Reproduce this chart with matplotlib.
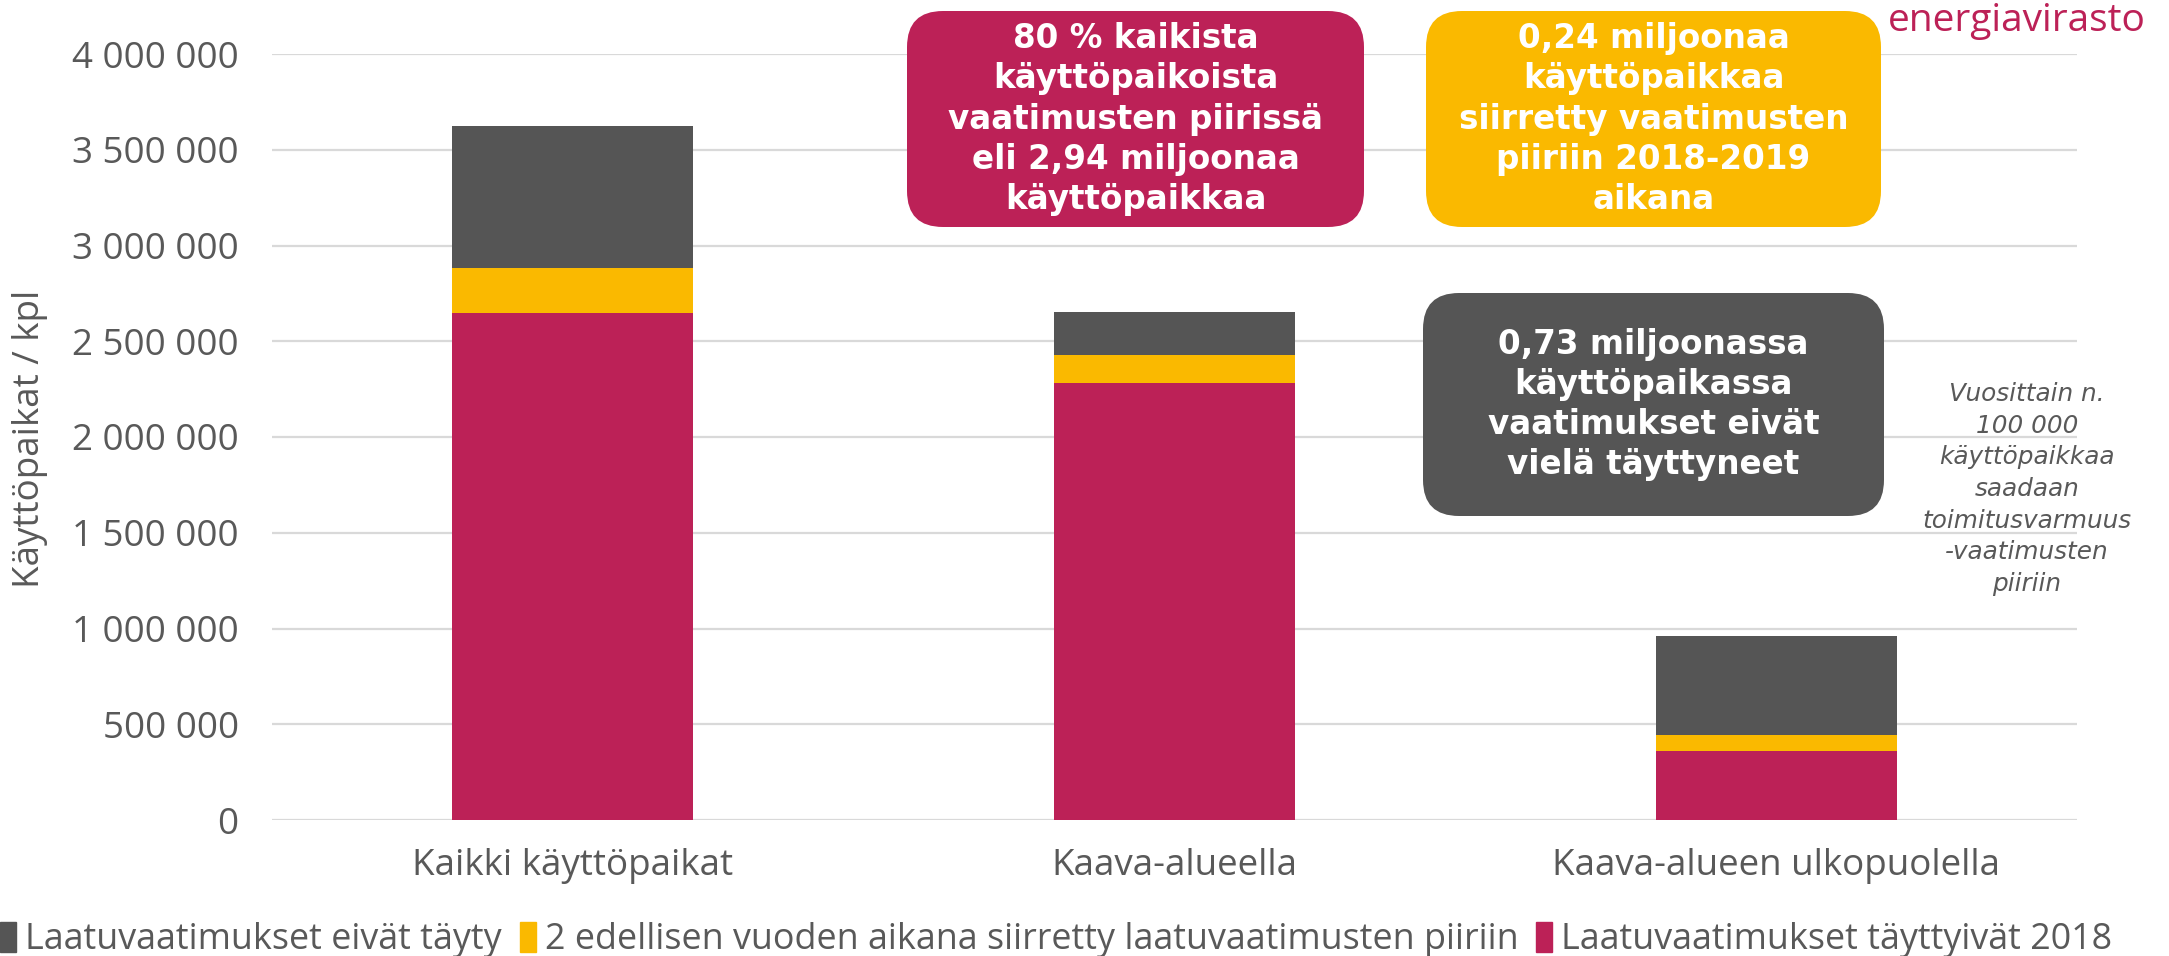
import matplotlib
matplotlib.use("Agg")
import matplotlib.pyplot as plt
from matplotlib.patches import FancyBboxPatch, Patch
from matplotlib.ticker import FuncFormatter
import numpy as np

# data
categories = ["Kaikki käyttöpaikat", "Kaava-alueella", "Kaava-alueen ulkopuolella"]
met_2018 = [2645000, 2282000, 360000]
moved = [239000, 147000, 82000]
not_met = [738000, 223000, 519000]
series_names = ["Laatuvaatimukset eivät täyty",
                "2 edellisen vuoden aikana siirretty laatuvaatimusten piiriin",
                "Laatuvaatimukset täyttyivät 2018"]

MAGENTA = "#BC2157"
YELLOW = "#FAB900"
GRAY = "#555555"
TEXT = "#595959"

plt.rcParams['font.family'] = ['Open Sans', 'DejaVu Sans']

fig = plt.figure(figsize=(21.69, 9.56), dpi=100)
ax = fig.add_axes([272 / 2169, 1 - 820 / 956, (2077 - 272) / 2169, (820 - 54) / 956])

x = np.arange(len(categories))
w = 0.4
b1 = np.array(met_2018)
b2 = b1 + np.array(moved)
ax.bar(x, met_2018, w, color=MAGENTA, zorder=2)
ax.bar(x, moved, w, bottom=b1, color=YELLOW, zorder=2)
ax.bar(x, not_met, w, bottom=b2, color=GRAY, zorder=2)

ax.set_xlim(-0.5, 2.5)
ax.set_ylim(0, 4000000)
ax.set_yticks(np.arange(0, 4000001, 500000))
ax.yaxis.set_major_formatter(FuncFormatter(lambda v, p: f"{int(v):,}".replace(",", " ")))
ax.set_xticks(x)
ax.set_xticklabels(categories)
ax.grid(axis='y', color="#D9D9D9", linewidth=1.6, zorder=0)
for s in ax.spines.values():
    s.set_visible(False)
ax.tick_params(axis='both', length=0, labelsize=26.5, colors=TEXT)
ax.tick_params(axis='y', pad=24)
ax.tick_params(axis='x', pad=20)

fig.text(30 / 2169, 1 - 317 * 1.3833 / 956, "Käyttöpaikat / kpl", rotation=90,
         ha='center', va='center', fontsize=26.5, color=TEXT)

# rounded note boxes (positions in inches from the bottom-left corner)
def note(x0, x1, ytop, ybot, color, txt):
    H = 9.56
    y0 = H - ybot / 100
    y1 = H - ytop / 100
    box = FancyBboxPatch((x0 / 100, y0), (x1 - x0) / 100, y1 - y0,
                         boxstyle="round,pad=0,rounding_size=0.36",
                         transform=fig.dpi_scale_trans, facecolor=color,
                         edgecolor='none', zorder=5)
    fig.patches.append(box)
    fig.text((x0 + x1) / 2 / 2169, 1 - (ytop + ybot) / 2 / 956, txt,
             ha='center', va='center', color='white', fontsize=23.5,
             fontweight='bold', family='DejaVu Sans', linespacing=1.27,
             zorder=6)

note(907, 1364, 11, 227, MAGENTA,
     "80 % kaikista\nkäyttöpaikoista\nvaatimusten piirissä\neli 2,94 miljoonaa\nkäyttöpaikkaa")
note(1426, 1881, 11, 227, YELLOW,
     "0,24 miljoonaa\nkäyttöpaikkaa\nsiirretty vaatimusten\npiiriin 2018-2019\naikana")
note(1423, 1884, 293, 516, GRAY,
     "0,73 miljoonassa\nkäyttöpaikassa\nvaatimukset eivät\nvielä täyttyneet")

fig.text(2027 / 2169, 1 - 489 / 956,
         "Vuosittain n.\n100 000\nkäyttöpaikkaa\nsaadaan\ntoimitusvarmuus\n-vaatimusten\npiiriin",
         ha='center', va='center', style='italic', fontsize=17.8, color=TEXT,
         family='DejaVu Sans', linespacing=1.4)

# logo text, kept just inside the top edge
fig.text(2017 / 2169, 1 - 2 / 956, "energiavirasto", ha='center', va='top',
         fontsize=28, color=MAGENTA)

handles = [Patch(color=GRAY), Patch(color=YELLOW), Patch(color=MAGENTA)]
fig.legend(handles, series_names, loc='center left', bbox_to_anchor=(0.0, 1 - 940 / 956),
           ncol=3, frameon=False, fontsize=25.8, labelcolor=TEXT,
           handlelength=0.45, handleheight=0.9, handletextpad=0.25,
           columnspacing=0.5, borderpad=0, borderaxespad=0)

fig.savefig("out.png", dpi=100)
